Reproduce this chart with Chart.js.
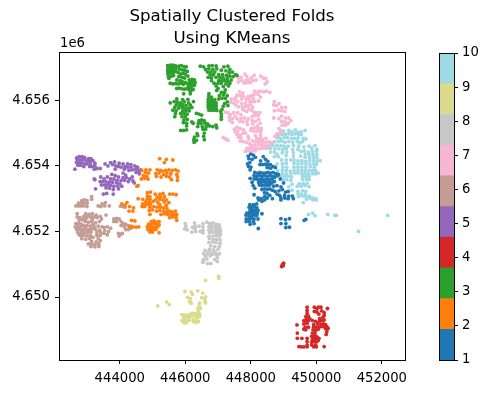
<!DOCTYPE html>
<html lang="en">
<head>
    <meta charset="UTF-8">
    <title>Spatially Clustered Folds</title>
    <script src="https://cdn.jsdelivr.net/npm/chart.js"></script>
    <style>
        body { margin: 0; background: #ffffff; }
        #wrap { position: relative; width: 491px; height: 394px; overflow: hidden; }
        #mainBox { position: absolute; left: 0; top: 0; width: 491px; height: 394px; }
        #barBox { position: absolute; left: 420px; top: 0; width: 71px; height: 394px; }
    </style>
</head>
<body>
<div id="wrap">
    <div id="mainBox"><canvas id="mapChart"></canvas></div>
    <div id="barBox"><canvas id="barChart"></canvas></div>
</div>
<script>
// points are km east of 440000 and km north of 4650000
const originX = 440000;
const originY = 4650000;

const fold1 = [[7.92,4.30],[8.00,4.36],[8.08,4.33],[8.14,4.26],[7.94,4.22],[8.04,4.20],[8.38,4.28],[8.45,4.20],[8.30,4.15],[8.52,4.14],
    [7.90,4.06],[7.97,4.10],[7.93,3.98],[8.00,3.96],[7.98,3.88],[8.28,4.04],[8.36,4.04],[8.44,4.05],[8.52,4.03],[8.60,4.04],[8.68,3.98],[8.75,3.95],[8.50,3.95],[8.60,3.93],
    [8.12,3.80],[8.20,3.78],[8.28,3.80],[8.36,3.78],[8.44,3.78],[8.52,3.80],[8.60,3.78],[8.68,3.80],[8.76,3.76],[8.84,3.74],
    [8.10,3.70],[8.18,3.68],[8.26,3.70],[8.34,3.68],[8.42,3.70],[8.50,3.68],[8.58,3.70],[8.66,3.68],[8.74,3.66],[8.82,3.70],
    [7.98,3.62],[8.10,3.60],[8.18,3.60],[8.26,3.58],[8.34,3.60],[8.42,3.58],[8.50,3.60],[8.58,3.58],[8.66,3.60],[8.90,3.60],
    [8.04,3.50],[8.24,3.50],[8.32,3.50],[8.40,3.52],[8.48,3.50],[8.56,3.50],[8.64,3.48],[8.72,3.52],[9.00,3.48],
    [8.07,3.40],[8.12,3.32],[8.26,3.42],[8.34,3.40],[8.42,3.42],[8.50,3.40],[8.58,3.42],[8.70,3.38],[8.80,3.40],[8.92,3.36],
    [8.34,3.28],[8.42,3.30],[8.50,3.28],[8.58,3.30],[8.66,3.26],[8.74,3.22],[8.86,3.24],[8.96,3.28],[9.06,3.20],[9.14,3.22],
    [8.10,3.12],[8.42,3.18],[8.50,3.15],[8.58,3.10],[8.80,3.14],[8.88,3.10],[9.03,3.10],[9.16,3.08],[9.27,3.08],[9.30,3.00],
    [8.22,3.02],[8.32,3.00],[8.42,3.06],[8.50,3.02],[8.66,3.00],[8.92,3.02],[9.04,3.02],[9.14,3.00],[8.24,2.96],[8.34,2.92],[8.42,2.96],[8.92,2.96],
    [7.97,2.82],[8.08,2.82],[8.18,2.84],[7.95,2.74],[8.03,2.74],[8.11,2.76],[8.19,2.72],[7.98,2.66],[8.06,2.66],[8.14,2.66],[8.22,2.64],
    [7.88,2.56],[7.96,2.58],[8.04,2.58],[8.12,2.58],[8.20,2.56],[8.34,2.54],[7.85,2.50],[7.94,2.48],[8.02,2.48],[8.10,2.50],[8.18,2.48],
    [7.86,2.38],[7.94,2.38],[8.02,2.40],[8.10,2.38],[8.22,2.38],[7.86,2.30],[7.96,2.30],[8.08,2.30],[7.98,2.22],[8.10,2.24],[8.23,2.09],
    [8.92,2.39],[9.06,2.36],[9.18,2.39],[8.92,2.24],[9.07,2.24],[9.07,2.12],[9.18,2.13],[9.63,2.34],[9.68,2.37]];

const fold2 = [[5.22,4.22],[5.42,4.20],[5.62,4.18],[5.36,4.10],[4.67,3.86],[4.80,3.88],[4.92,3.88],[5.14,3.88],[5.24,3.86],[5.30,3.84],[5.40,3.86],[5.50,3.88],[5.60,3.86],[5.70,3.88],[5.78,3.84],
    [4.78,3.80],[4.88,3.78],[5.10,3.76],[5.20,3.78],[5.34,3.74],[5.44,3.78],[5.56,3.76],[5.74,3.74],[4.72,3.70],[4.82,3.68],[5.12,3.68],[5.26,3.66],[5.42,3.68],[5.52,3.66],[5.76,3.66],
    [4.66,3.60],[4.76,3.62],[4.86,3.60],[5.58,3.58],[5.76,3.56],[4.52,3.38],[4.56,3.40],
    [4.84,3.18],[4.94,3.20],[5.08,3.14],[5.22,3.14],[5.32,3.16],[5.52,3.14],[5.62,3.14],[5.72,3.12],[4.84,3.08],[4.92,3.06],[5.14,3.05],[5.24,3.06],[5.36,3.06],
    [4.56,3.00],[4.70,2.98],[4.84,3.00],[4.92,2.98],[5.10,2.96],[5.22,2.98],[5.32,2.96],[5.42,2.96],[4.80,2.92],[4.90,2.90],[5.02,2.92],[5.16,2.88],[5.36,2.90],[5.50,2.88],
    [4.06,2.84],[4.22,2.88],[4.16,2.80],[4.70,2.84],[4.78,2.84],[4.86,2.82],[4.94,2.84],[5.22,2.82],[5.42,2.80],[4.30,2.76],[4.42,2.72],[4.68,2.76],[4.76,2.76],[4.92,2.74],[5.04,2.76],[5.14,2.74],[5.24,2.74],[5.34,2.72],[5.44,2.70],
    [4.28,2.62],[4.40,2.62],[4.90,2.64],[5.00,2.66],[5.12,2.62],[5.22,2.64],[5.34,2.62],[5.44,2.60],[5.52,2.62],[5.60,2.60],[5.70,2.62],
    [4.92,2.52],[5.26,2.52],[5.36,2.54],[5.46,2.52],[5.56,2.52],[5.66,2.52],[5.74,2.52],[5.52,2.42],[5.62,2.44],[5.72,2.42],[5.74,2.34],
    [4.36,2.34],[4.46,2.32],[4.96,2.30],[5.04,2.32],[5.12,2.28],[5.20,2.30],[4.88,2.22],[4.96,2.22],[5.04,2.24],[5.12,2.22],[5.20,2.20],
    [4.30,2.14],[4.40,2.14],[4.50,2.13],[4.58,2.14],[4.84,2.14],[4.92,2.15],[5.00,2.14],[5.08,2.13],[5.16,2.14],[4.86,2.06],[4.94,2.06],[5.02,2.05],[5.10,2.06],[4.92,1.98],[5.00,1.98],[5.20,1.96]];

const fold3 = [[5.46,7.06],[5.54,7.07],[5.62,7.07],[5.70,7.05],[5.47,6.98],[5.55,6.99],[5.63,6.98],[5.71,6.97],[5.46,6.90],[5.54,6.91],[5.62,6.90],[5.70,6.88],[5.47,6.82],[5.55,6.83],[5.63,6.81],[5.48,6.74],[5.56,6.73],[5.64,6.75],[5.50,6.67],
    [5.80,7.04],[5.88,7.06],[5.96,7.03],[6.03,7.02],[5.82,6.95],[5.90,6.93],[5.98,6.92],[6.06,6.88],[5.78,6.85],[5.85,6.80],[5.93,6.82],[6.00,6.80],[6.08,6.74],[5.80,6.72],[5.90,6.70],[5.98,6.68],[5.74,6.62],[5.84,6.60],
    [5.54,6.52],[5.62,6.50],[5.70,6.51],[5.78,6.50],[5.86,6.52],[5.94,6.49],[6.00,6.55],[6.06,6.50],[5.90,6.58],
    [6.12,6.62],[6.20,6.64],[6.28,6.62],[6.14,6.55],[6.22,6.56],[6.30,6.54],[6.12,6.47],[6.20,6.48],[6.28,6.46],[6.10,6.40],[6.18,6.39],[6.24,6.33],[6.12,6.32],
    [5.74,6.36],[5.82,6.37],[5.90,6.35],[5.98,6.34],[6.05,6.36],[5.95,6.20],[6.15,6.20],[6.16,6.28],
    [5.74,6.04],[5.92,6.02],[6.08,6.03],[5.66,5.96],[5.76,5.94],[5.86,5.92],[5.97,5.95],[6.10,5.92],[6.25,5.96],[5.54,5.92],[5.72,5.86],[5.82,5.84],[5.92,5.86],[6.02,5.84],[6.15,5.86],
    [5.68,5.78],[5.80,5.76],[5.92,5.78],[6.00,5.74],[6.10,5.76],[6.20,5.78],[5.62,5.70],[5.72,5.68],[5.92,5.68],[6.02,5.68],[6.12,5.68],[5.70,5.60],[5.86,5.60],[5.96,5.60],[6.06,5.58],[6.34,5.60],[6.42,5.58],[6.50,5.55],
    [5.68,5.50],[5.90,5.50],[6.00,5.50],[5.96,5.40],[6.06,5.42],[5.94,5.32],[6.04,5.30],[6.20,5.34],[6.24,5.30],[6.04,5.22],[5.86,5.08],[5.95,5.08],[6.04,5.10],
    [6.42,5.38],[6.50,5.40],[6.58,5.38],[6.40,5.30],[6.48,5.30],[6.60,5.30],[6.68,5.28],[6.38,5.20],[6.52,5.20],[6.64,5.20],[6.74,5.22],[6.84,5.20],[6.94,5.24],[6.96,5.16],[6.54,5.12],[6.62,5.12],
    [6.36,4.98],[6.28,4.88],[6.38,4.92],[6.26,4.80],[6.34,4.78],[6.27,4.72],[6.58,5.00],[6.56,4.90],[6.58,4.80],
    [6.72,6.20],[6.72,6.12],[6.80,6.10],[6.70,6.03],[6.80,6.02],[6.90,6.02],[6.70,5.94],[6.78,5.94],[6.86,5.94],[6.94,5.92],[6.70,5.86],[6.78,5.86],[6.86,5.86],[6.94,5.84],[6.70,5.78],[6.78,5.78],[6.86,5.78],[6.94,5.76],[6.72,5.70],[6.80,5.70],[6.88,5.70],[6.96,5.69],
    [7.10,6.24],[7.20,6.24],[7.04,6.14],[7.16,6.16],[7.28,6.14],[7.02,6.04],[7.12,6.06],[7.22,6.06],[7.28,5.95],[7.20,5.90],[7.16,5.82],[7.30,5.84],[7.12,5.72],[7.08,5.66],[7.10,5.58],[7.10,5.50],[7.10,5.42],
    [6.46,7.04],[6.56,7.02],[6.72,7.05],[6.82,7.06],[6.94,7.05],[6.62,6.94],[6.72,6.96],[6.84,6.94],[6.96,6.96],[6.68,6.86],[6.78,6.86],[6.90,6.86],[7.18,7.02],[7.30,7.04],[7.36,6.94],[7.10,6.92],[7.24,6.90],[7.34,6.84],[7.44,6.86],[7.53,6.78],[7.58,6.76],
    [6.76,6.78],[6.86,6.78],[7.02,6.78],[7.14,6.78],[7.26,6.76],[7.36,6.74],[7.46,6.72],[6.70,6.70],[6.80,6.68],[6.94,6.70],[7.06,6.70],[7.16,6.68],[7.28,6.66],[6.80,6.60],[7.02,6.60],[7.10,6.60],[7.20,6.60],[7.30,6.58],[7.40,6.62],
    [6.88,6.52],[7.00,6.52],[7.10,6.52],[7.24,6.50],[7.36,6.52],[6.94,6.44],[7.16,6.42],[7.32,6.44],[7.00,6.36],[6.96,6.30],[7.22,6.32]];

const fold4 = [[8.94,0.93],[8.96,0.97],[8.98,1.00],[9.00,1.03],[8.96,0.94],[8.99,0.96],
    [9.72,-0.31],[9.72,-0.41],[9.72,-0.50],[9.94,-0.31],[10.02,-0.36],[10.06,-0.31],[10.14,-0.31],[10.34,-0.35],[9.94,-0.44],[10.02,-0.46],[10.16,-0.42],[10.24,-0.48],
    [9.68,-0.60],[9.76,-0.58],[10.08,-0.52],[10.24,-0.56],[9.70,-0.68],[9.80,-0.66],[10.10,-0.66],[10.20,-0.62],[9.62,-0.72],[9.68,-0.74],[9.76,-0.72],[9.88,-0.72],[9.98,-0.74],[10.10,-0.74],[10.18,-0.72],[10.24,-0.70],
    [9.41,-0.85],[9.62,-0.82],[9.72,-0.80],[9.92,-0.84],[10.04,-0.82],[10.14,-0.84],[10.22,-0.82],[10.28,-0.84],[9.66,-0.92],[9.76,-0.92],[9.92,-0.92],[10.00,-0.92],[10.08,-0.92],[10.16,-0.90],[10.24,-0.90],[10.32,-0.90],[10.28,-0.96],[10.36,-0.96],
    [9.42,-1.10],[9.62,-0.98],[9.68,-1.00],[9.90,-1.00],[9.98,-1.02],[10.06,-0.98],[10.32,-1.06],[10.30,-1.14],[9.88,-1.10],[9.96,-1.12],[9.42,-1.26],[9.56,-1.26],[9.72,-1.26],[9.86,-1.20],[9.94,-1.20],[10.02,-1.22],
    [9.88,-1.30],[9.94,-1.28],[10.02,-1.28],[10.08,-1.26],[9.72,-1.36],[9.86,-1.38],[9.94,-1.36],[10.02,-1.36],[10.06,-1.32],[9.47,-1.51],[9.54,-1.52],[9.62,-1.52],[9.72,-1.46],[9.72,-1.52],[9.86,-1.46],[9.92,-1.52],[9.98,-1.46],[10.00,-1.52],[10.24,-1.51]];

const fold5 = [[2.68,4.24],[2.76,4.28],[2.84,4.28],[2.92,4.26],[3.04,4.22],[3.12,4.22],[2.70,4.18],[2.78,4.18],[2.86,4.20],[2.94,4.18],[3.02,4.14],[3.10,4.14],[3.18,4.16],
    [2.68,4.10],[2.76,4.08],[2.84,4.10],[2.92,4.06],[3.00,4.06],[3.10,4.06],[3.24,4.08],[2.72,4.02],[2.80,4.02],[2.90,3.98],[3.08,3.98],[3.16,3.98],[3.24,4.00],[2.63,3.90],[3.22,3.90],[3.30,3.92],[3.40,3.92],
    [3.55,4.06],[3.64,4.00],[3.72,4.10],[3.84,4.12],[3.78,4.04],[3.88,4.00],[3.98,4.08],[3.96,3.98],[4.10,4.06],[3.86,3.90],[4.04,3.96],[4.16,3.98],[4.24,4.06],[4.34,4.04],[4.14,3.90],[4.24,3.96],[4.34,3.96],[4.46,4.00],[4.54,3.96],[4.28,3.86],[4.38,3.88],[4.48,3.90],[4.58,3.86],[4.64,3.88],[4.50,3.80],[4.60,3.76],
    [3.76,3.74],[3.86,3.70],[3.96,3.66],[4.10,3.78],[4.18,3.72],[4.10,3.64],[4.20,3.64],[4.30,3.60],[4.38,3.66],[3.22,3.60],[3.24,3.58],[3.42,3.66],[3.52,3.60],[3.62,3.66],[3.72,3.60],[3.82,3.60],[3.92,3.56],[4.04,3.56],[4.14,3.56],[4.26,3.52],[4.40,3.54],[4.44,3.48],
    [3.40,3.52],[3.48,3.52],[3.58,3.52],[3.68,3.50],[3.78,3.50],[3.90,3.48],[4.00,3.46],[3.44,3.42],[3.54,3.42],[3.62,3.42],[3.72,3.40],[3.82,3.38],[3.94,3.38],[4.06,3.38],[3.26,3.30],[3.58,3.33],[3.68,3.32],[3.80,3.28],[3.96,3.30],[3.50,3.14],[3.60,3.16],[3.80,3.14]];

const fold6 = [[3.14,3.06],[3.14,2.98],[2.84,2.94],[2.92,2.96],[3.00,2.94],[2.74,2.86],[2.82,2.88],[2.90,2.86],[3.00,2.86],[2.66,2.78],[2.74,2.78],[2.82,2.78],[2.90,2.78],[3.00,2.76],
    [3.34,2.78],[3.42,2.76],[3.46,2.84],[3.56,2.88],[3.54,2.78],[3.68,2.78],[4.02,2.77],[4.10,2.76],[4.16,2.74],
    [2.70,2.54],[2.70,2.44],[2.78,2.42],[2.96,2.54],[3.06,2.52],[3.16,2.54],[3.28,2.50],[3.40,2.46],[3.58,2.50],[2.90,2.46],[3.00,2.44],[3.10,2.44],[3.20,2.44],[3.30,2.42],[3.44,2.38],
    [2.66,2.24],[2.74,2.24],[2.82,2.22],[2.94,2.30],[3.04,2.28],[3.14,2.30],[3.26,2.26],[3.38,2.30],[2.64,2.14],[2.72,2.14],[2.80,2.14],[2.90,2.18],[3.00,2.18],[3.10,2.16],[3.22,2.14],[3.34,2.16],[3.46,2.14],
    [2.68,2.06],[2.78,2.06],[2.88,2.06],[2.98,2.06],[3.08,2.06],[3.26,2.06],[3.38,2.04],[2.72,1.96],[2.82,1.96],[2.92,1.96],[3.02,1.96],[3.12,1.98],[3.30,1.96],[3.42,1.96],[2.80,1.88],[2.90,1.88],[3.00,1.86],[3.10,1.88],[3.30,1.88],[3.40,1.88],[2.84,1.78],[2.96,1.76],[3.08,1.78],[3.34,1.78],[3.40,1.72],
    [3.04,1.62],[3.14,1.62],[3.24,1.60],[3.36,1.62],[3.12,1.54],[3.24,1.53],[3.36,1.54],
    [3.52,2.12],[3.62,2.14],[3.72,2.10],[3.54,2.02],[3.66,2.00],[3.52,1.94],[3.62,1.90],
    [3.82,2.38],[3.90,2.40],[3.98,2.38],[3.82,2.30],[3.90,2.30],[4.04,2.30],[4.10,2.24],[4.18,2.22],[4.04,2.18],[4.14,2.14],[4.26,2.18],[4.34,2.16],[4.18,2.06],[4.26,2.06],[4.34,2.10],[3.96,1.94],[4.04,1.92],[3.98,1.86],[4.08,1.94],
    [2.86,2.36],[2.96,2.38],[3.16,2.36],[2.76,2.34],[3.18,2.22],[2.94,2.12],[3.16,2.08],[2.86,2.00],[3.06,2.02],[2.76,1.90],[3.18,1.82],[3.14,1.70],[3.28,1.68]];

const fold7 = [[7.62,6.68],[7.70,6.70],[7.62,6.56],[7.72,6.60],[7.82,6.80],[7.88,6.72],[7.84,6.60],[7.92,6.62],[7.80,6.52],[7.90,6.54],[7.98,6.54],[8.02,6.68],[8.10,6.76],[8.06,6.60],[8.16,6.62],[8.30,6.74],[8.38,6.68],[8.46,6.66],[8.50,6.56],[8.44,6.50],
    [8.12,6.28],[8.22,6.26],[8.30,6.28],[8.40,6.26],[8.48,6.28],[8.58,6.24],[7.66,6.26],[7.76,6.22],[7.58,6.16],[7.68,6.14],[8.02,6.14],[8.10,6.18],[8.22,6.18],[8.30,6.10],
    [7.40,6.04],[7.50,6.02],[7.60,5.96],[7.72,6.04],[7.86,6.04],[7.96,6.06],[8.08,6.06],[8.24,5.98],[7.38,5.94],[7.48,5.92],[7.72,5.90],[7.84,5.92],[7.96,5.96],[8.04,5.96],[8.12,5.96],
    [7.62,5.80],[7.74,5.80],[7.84,5.82],[7.92,5.84],[8.00,5.86],[8.06,5.78],[7.80,5.70],[7.94,5.74],[8.02,5.70],[8.10,5.64],[8.18,5.62],[8.28,5.62],[8.12,5.54],[8.22,5.54],
    [7.22,5.64],[7.30,5.62],[7.38,5.56],[7.48,5.62],[7.52,5.52],[7.34,5.48],[7.44,5.44],[7.36,5.38],[7.44,5.32],[7.70,5.44],[7.80,5.46],[7.66,5.36],[7.76,5.34],[7.88,5.36],[7.92,5.44],[7.90,5.26],
    [8.14,5.36],[8.24,5.42],[8.28,5.30],[8.20,5.22],[7.50,5.12],[7.58,5.18],[7.68,5.14],[7.52,5.04],[7.60,5.06],[7.68,4.94],[7.62,4.88],[7.70,4.86],[7.76,5.00],[7.84,5.00],[7.68,4.76],[7.76,4.74],[7.86,4.72],[8.02,5.14],[8.12,5.16],[8.22,5.14],[8.32,5.14],[8.00,5.08],[8.10,5.06],[8.20,5.06],[8.30,5.06],
    [7.16,4.86],[7.24,4.82],[7.30,4.78],[8.30,4.96],[8.30,4.88],[8.18,4.84],[8.26,4.80],[8.36,4.80],[8.06,4.76],[8.16,4.74],[8.26,4.72],[8.36,4.72],[8.46,4.84],[8.56,4.74],[8.66,4.70],[8.46,4.72],
    [8.02,4.62],[8.12,4.64],[8.22,4.64],[8.32,4.62],[8.42,4.62],[7.96,4.54],[8.06,4.54],[8.16,4.54],[8.26,4.52],[8.36,4.54],[7.84,4.44],[7.94,4.46],[8.04,4.46],[8.14,4.46],
    [8.72,5.96],[8.70,5.86],[8.78,5.84],[8.86,5.90],[8.94,5.78],[9.06,5.78],[8.72,5.68],[8.84,5.70],[8.94,5.68],[9.04,5.66],[8.70,5.46],[8.86,5.44],[8.94,5.52],[9.06,5.46],[9.16,5.46],[8.94,5.36],[9.04,5.34],[9.14,5.30],[9.22,5.38],[8.96,5.24],[9.06,5.24],[8.86,5.14],[8.92,5.06],[8.80,4.98],[8.90,4.98],[8.74,4.90],
    [7.54,6.08],[7.78,6.12],[7.92,6.12],[7.54,5.86],[7.76,5.72],[7.88,5.66],[7.60,5.62],[7.70,5.56],[8.04,5.50],[7.58,5.44],[8.04,5.38],[8.06,5.28],
    [7.78,5.10],[7.58,4.96],[7.92,4.90],[8.14,4.92],[7.94,4.82],[7.96,4.68],[8.52,4.62],[8.58,4.66],[7.88,4.54],[8.46,4.54]];

const fold8 = [[6.00,2.24],[6.02,2.16],[5.98,2.08],[6.06,2.05],[6.28,2.26],[6.30,2.16],[6.22,2.12],[6.30,2.08],[6.32,2.00],[6.20,1.98],[6.54,2.24],[6.54,2.14],[6.54,2.04],[6.54,1.96],[6.46,2.00],[6.42,2.16],
    [6.66,2.28],[6.74,2.24],[6.84,2.26],[6.94,2.22],[7.04,2.20],[6.72,2.14],[6.80,2.16],[6.90,2.14],[6.98,2.12],[7.06,2.10],[6.72,2.04],[6.80,2.06],[6.92,2.06],[7.00,2.04],[7.08,2.02],[6.74,1.96],[6.84,1.98],[6.94,1.96],[7.02,1.94],[7.08,1.92],
    [6.72,1.84],[6.84,1.86],[6.94,1.88],[7.04,1.86],[6.74,1.78],[6.86,1.76],[6.96,1.76],[7.06,1.74],[6.72,1.66],[6.84,1.68],[6.94,1.66],[7.06,1.64],[6.78,1.56],[6.90,1.54],[7.04,1.54],[6.74,1.46],[6.86,1.44],[7.00,1.46],[6.80,1.34],[6.92,1.36],[7.04,1.32],[6.60,1.42],[6.72,1.40],
    [6.56,1.32],[6.62,1.24],[6.68,1.32],[6.76,1.26],[6.84,1.30],[6.96,1.28],[6.55,1.14],[6.66,1.16],[6.90,1.14],[6.98,1.20],[6.54,1.06],[6.68,1.02],[6.78,1.02],[6.98,1.08]];

const fold9 = [[5.16,-0.27],[5.43,-0.15],[5.51,-0.23],[6.62,0.51],[7.02,0.63],[7.02,0.57],
    [5.99,0.17],[6.18,0.15],[6.22,0.08],[6.38,0.19],[6.53,0.12],[6.07,-0.01],[6.16,-0.05],[6.13,-0.13],[6.18,-0.19],[6.50,-0.02],[6.60,-0.05],[6.62,0.00],[6.60,-0.13],[6.62,-0.18],
    [6.44,-0.19],[6.42,-0.28],[6.38,-0.36],[6.46,-0.35],[6.40,-0.45],[6.36,-0.50],[6.44,-0.52],[5.90,-0.54],[5.98,-0.55],[6.06,-0.55],[6.14,-0.54],[6.20,-0.50],[6.28,-0.50],[6.36,-0.56],
    [5.96,-0.62],[6.06,-0.62],[6.12,-0.62],[6.20,-0.58],[6.30,-0.60],[6.38,-0.62],[6.44,-0.60],[5.90,-0.72],[5.98,-0.70],[6.04,-0.74],[6.12,-0.72],[6.24,-0.70],[6.34,-0.72],[6.40,-0.74],[5.96,-0.78],[6.02,-0.79],[6.26,-0.76],[6.34,-0.78]];

const fold10 = [[8.92,5.08],[9.00,5.06],[9.16,5.08],[9.26,5.04],[9.36,5.10],[9.44,5.02],[9.54,5.04],[9.66,5.08],
    [8.86,4.94],[8.96,4.96],[9.06,4.96],[9.16,4.98],[9.26,4.96],[9.36,4.98],[9.46,4.94],[9.54,4.96],[8.80,4.86],[8.90,4.84],[9.02,4.86],[9.12,4.86],[9.24,4.84],[9.34,4.84],[9.44,4.84],[9.60,4.84],[9.68,4.82],
    [8.72,4.74],[8.84,4.74],[8.94,4.76],[9.04,4.72],[9.16,4.74],[9.28,4.72],[9.42,4.74],[9.50,4.70],[9.58,4.74],[9.78,4.60],[9.86,4.54],[9.96,4.62],[10.02,4.50],
    [8.58,4.62],[8.68,4.62],[8.80,4.62],[8.92,4.62],[9.02,4.60],[9.14,4.60],[9.30,4.62],[9.46,4.60],[9.62,4.58],[8.50,4.54],[8.60,4.54],[8.74,4.52],[8.86,4.52],[8.98,4.50],[9.08,4.52],[9.28,4.50],[9.44,4.50],[9.54,4.44],[9.64,4.46],[9.76,4.42],[9.88,4.44],[10.00,4.44],
    [8.60,4.42],[8.72,4.42],[8.80,4.36],[8.96,4.40],[9.10,4.42],[9.30,4.40],[9.66,4.36],[9.78,4.34],[9.90,4.34],[10.02,4.34],[8.72,4.28],[8.84,4.28],[9.08,4.32],[9.30,4.30],[9.52,4.30],[9.66,4.26],[9.80,4.24],[9.92,4.26],[10.02,4.24],
    [8.94,4.18],[9.08,4.18],[9.22,4.18],[9.32,4.18],[9.44,4.16],[9.56,4.16],[9.68,4.14],[9.80,4.16],[9.92,4.16],[10.02,4.14],[10.12,4.16],[8.80,4.06],[8.96,4.06],[9.08,4.08],[9.32,4.08],[9.44,4.06],[9.56,4.08],[9.68,4.06],[9.80,4.06],[9.92,4.06],[10.00,4.04],
    [8.98,3.96],[9.10,3.96],[9.32,3.96],[9.44,3.96],[9.56,3.96],[9.68,3.96],[9.82,3.98],[9.94,3.96],[8.82,3.86],[8.96,3.86],[9.08,3.86],[9.20,3.84],[9.32,3.86],[9.44,3.86],[9.56,3.86],[9.66,3.86],[9.78,3.86],[9.88,3.86],[9.98,3.86],
    [8.82,3.76],[8.96,3.76],[9.08,3.76],[9.22,3.76],[9.34,3.78],[9.44,3.78],[9.56,3.76],[9.66,3.76],[9.76,3.76],[9.88,3.76],[9.98,3.76],[10.06,3.78],
    [8.92,3.68],[9.04,3.68],[9.14,3.68],[9.24,3.66],[9.58,3.68],[9.68,3.66],[9.78,3.68],[9.00,3.58],[9.10,3.58],[9.22,3.56],[9.58,3.58],[9.70,3.58],[9.78,3.58],[9.48,3.46],[9.60,3.46],[9.72,3.46],[9.26,3.44],[9.16,3.36],[9.42,3.38],[9.54,3.38],[9.66,3.40],[9.78,3.36],[9.26,3.26],
    [9.44,3.22],[9.58,3.24],[9.68,3.22],[9.44,3.14],[9.54,3.14],[9.66,3.12],[9.46,3.06],[9.58,3.08],[9.68,3.06],[9.78,3.08],[9.88,3.02],[9.98,3.00],[9.70,2.98],[9.80,3.02],[9.90,2.96],[10.00,2.96],[9.60,2.88],
    [9.76,2.52],[9.89,2.56],[9.96,2.48],[10.35,2.52],[10.57,2.49],[10.61,2.49],[12.18,2.49],[11.29,2.00]];

const folds = [fold1, fold2, fold3, fold4, fold5, fold6, fold7, fold8, fold9, fold10];
const foldColors = ['#1f77b4', '#ff7f0e', '#2ca02c', '#d62728', '#9467bd', '#c49c94', '#f7b6d2', '#c7c7c7', '#dbdb8d', '#9edae5'];
const xTicks = [444000, 446000, 448000, 450000, 452000];
const yTicks = [4650000, 4652000, 4654000, 4656000];
const barTicks = [1, 2, 3, 4, 5, 6, 7, 8, 9, 10];
const barEdges = [1, 1.9, 2.8, 3.7, 4.6, 5.5, 6.4, 7.3, 8.2, 9.1, 10];

const tickFont = { family: '"DejaVu Sans"', size: 13.2 };

// black box round the axes, plus the 1e6 offset label
const framePlugin = {
    id: 'frame',
    afterDraw(chart, args, opts) {
        const c = chart.ctx, a = chart.chartArea;
        c.save();
        c.strokeStyle = '#000';
        c.lineWidth = 1;
        c.strokeRect(Math.round(a.left) + 0.5, Math.round(a.top) + 0.5, Math.round(a.right - a.left), Math.round(a.bottom - a.top));
        if (opts.offsetText) {
            c.fillStyle = '#000';
            c.font = '13.2px "DejaVu Sans"';
            c.textAlign = 'left';
            c.textBaseline = 'bottom';
            c.fillText(opts.offsetText, a.left + 1, a.top - 2);
        }
        c.restore();
    }
};

new Chart(document.getElementById('mapChart'), {
    type: 'scatter',
    data: {
        datasets: folds.map((pts, i) => ({
            label: 'Fold ' + (i + 1),
            data: pts.map(p => ({ x: originX + p[0] * 1000, y: originY + p[1] * 1000 })),
            backgroundColor: foldColors[i],
            borderWidth: 0,
            pointRadius: 1.9,
            pointHoverRadius: 1.9
        }))
    },
    options: {
        responsive: true,
        maintainAspectRatio: false,
        animation: false,
        layout: { padding: { right: 86, left: 0, top: 0, bottom: 0 } },
        plugins: {
            legend: { display: false },
            tooltip: { enabled: false },
            title: {
                display: true,
                text: ['Spatially Clustered Folds', 'Using KMeans'],
                color: '#000',
                fullSize: false,
                font: { family: '"DejaVu Sans"', size: 16.67, weight: 'normal', lineHeight: 1.3 },
                padding: { top: 6, bottom: 3 }
            },
            frame: { offsetText: '1e6' }
        },
        scales: {
            x: {
                type: 'linear',
                min: 442144,
                max: 452708,
                afterBuildTicks: s => { s.ticks = xTicks.map(v => ({ value: v })); },
                afterFit: s => { s.height = 34; },
                grid: { drawOnChartArea: false, tickLength: 4, color: '#000' },
                border: { display: false },
                ticks: { color: '#000', font: tickFont, maxRotation: 0, padding: 7, callback: v => String(v) }
            },
            y: {
                type: 'linear',
                min: 4648079,
                max: 4657463,
                afterBuildTicks: s => { s.ticks = yTicks.map(v => ({ value: v })); },
                afterFit: s => { s.width = 59; },
                grid: { drawOnChartArea: false, tickLength: 4, color: '#000' },
                border: { display: false },
                ticks: { color: '#000', font: tickFont, padding: 5, callback: v => (v / 1e6).toFixed(3) }
            }
        }
    },
    plugins: [framePlugin]
});

new Chart(document.getElementById('barChart'), {
    type: 'bar',
    data: {
        labels: [''],
        datasets: foldColors.map((col, i) => ({
            data: [[barEdges[i], barEdges[i + 1]]],
            backgroundColor: col,
            borderWidth: 0,
            barPercentage: 1,
            categoryPercentage: 1,
            grouped: false
        }))
    },
    options: {
        responsive: true,
        maintainAspectRatio: false,
        animation: false,
        layout: { padding: { left: 19, top: 53, bottom: 34, right: 0 } },
        plugins: { legend: { display: false }, tooltip: { enabled: false }, frame: {} },
        scales: {
            x: { display: false },
            y: {
                position: 'right',
                min: 1,
                max: 10,
                afterBuildTicks: s => { s.ticks = barTicks.map(v => ({ value: v })); },
                afterFit: s => { s.width = 37; },
                grid: { drawOnChartArea: false, tickLength: 4, color: '#000' },
                border: { display: false },
                ticks: { color: '#000', font: tickFont, padding: 4 }
            }
        }
    },
    plugins: [framePlugin]
});
</script>
</body>
</html>
